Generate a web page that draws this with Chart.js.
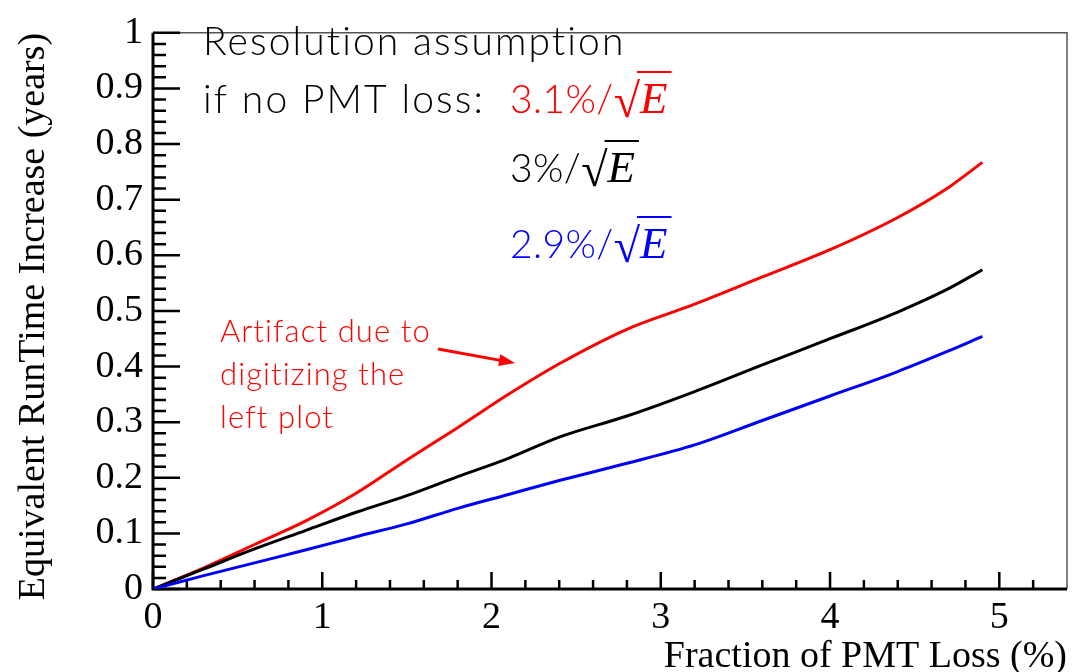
<!DOCTYPE html>
<html>
<head>
<meta charset="utf-8">
<script src="https://cdn.jsdelivr.net/npm/chart.js@4.4.0/dist/chart.umd.min.js"></script>
<style>
html, body { margin: 0; padding: 0; background: #fff; }
</style>
</head>
<body>
<canvas id="pmt" width="1074" height="672"></canvas>
<script>
// fraction of PMT loss (%) where the curves were read
const lossX = [0, 0.3, 0.6, 0.9, 1.2, 1.5, 1.8, 2.1, 2.4, 2.8, 3.2, 3.6, 4.0, 4.4, 4.7, 4.9];
// equivalent runtime increase (years)
const res31 = [0, 0.038, 0.080, 0.122, 0.172, 0.232, 0.290, 0.350, 0.405, 0.467, 0.512, 0.561, 0.610, 0.668, 0.722, 0.767];
const res30 = [0, 0.036, 0.072, 0.105, 0.138, 0.168, 0.202, 0.235, 0.273, 0.311, 0.355, 0.403, 0.450, 0.498, 0.540, 0.574];
const res29 = [0, 0.024, 0.047, 0.070, 0.094, 0.117, 0.145, 0.170, 0.195, 0.226, 0.259, 0.303, 0.347, 0.391, 0.428, 0.454];

const xTickVals = [0, 1, 2, 3, 4, 5];
const yTickVals = [0, 0.1, 0.2, 0.3, 0.4, 0.5, 0.6, 0.7, 0.8, 0.9, 1];

const RED = '#ff0000', BLUE = '#0000ff', BLACK = '#000000';
const serif = '"Liberation Serif", "Times New Roman", serif';

function pts(ys) {
  return lossX.map((x, i) => ({x: x, y: ys[i]}));
}

// root style frame: ticks pointing inward
const frame = {
  id: 'frame',
  beforeDatasetsDraw(chart) {
    const {ctx, chartArea: a, scales: {x, y}} = chart;
    ctx.save();
    ctx.strokeStyle = '#555';
    ctx.lineWidth = 1.5;
    ctx.beginPath();
    ctx.moveTo(a.left, a.top);
    ctx.lineTo(a.right, a.top);
    ctx.lineTo(a.right, a.bottom);
    ctx.stroke();

    ctx.strokeStyle = '#000';
    ctx.lineWidth = 2.5;
    ctx.beginPath();
    for (let i = 0; i * 0.2 < x.max - 0.01; i++) {
      const px = x.getPixelForValue(i * 0.2);
      ctx.moveTo(px, a.bottom);
      ctx.lineTo(px, a.bottom - (i % 5 === 0 ? 17 : 9));
    }
    for (let i = 0; i <= 50; i++) {
      const py = y.getPixelForValue(i * 0.02);
      ctx.moveTo(a.left, py);
      ctx.lineTo(a.left + (i % 5 === 0 ? 27 : 13), py);
    }
    ctx.stroke();

    ctx.lineWidth = 3;
    ctx.beginPath();
    ctx.moveTo(a.left, a.top);
    ctx.lineTo(a.left, a.bottom);
    ctx.lineTo(a.right, a.bottom);
    ctx.stroke();
    ctx.restore();
  }
};

function drawRes(ctx, prefix, x, y, color) {
  ctx.fillStyle = color;
  ctx.strokeStyle = color;
  ctx.font = '300 39px Lato';
  ctx.letterSpacing = '0.4px';
  ctx.fillText(prefix, x, y);
  let cx = x + ctx.measureText(prefix).width;
  ctx.letterSpacing = '0px';
  ctx.font = '48px ' + serif;
  ctx.fillText('\u221A', cx, y + 4);
  const rw = ctx.measureText('\u221A').width;
  ctx.font = 'italic 45px ' + serif;
  const ex = cx + rw;
  ctx.fillText('E', ex, y);
  const ew = ctx.measureText('E').width;
  ctx.lineWidth = 2;
  ctx.beginPath();
  ctx.moveTo(cx + rw - 3, y - 41);
  ctx.lineTo(ex + ew + 4, y - 41);
  ctx.stroke();
}

const notes = {
  id: 'notes',
  afterDraw(chart) {
    const ctx = chart.ctx;
    ctx.save();
    ctx.textBaseline = 'alphabetic';
    ctx.textAlign = 'left';
    ctx.fillStyle = BLACK;
    ctx.font = '300 39px Lato';
    ctx.letterSpacing = '2.1px';
    ctx.fillText('Resolution assumption', 203, 55);
    ctx.fillText('if no PMT loss:', 203, 113);
    drawRes(ctx, '3.1%/', 510, 113, RED);
    drawRes(ctx, '3%/', 510, 182, BLACK);
    drawRes(ctx, '2.9%/', 510, 258, BLUE);

    ctx.fillStyle = RED;
    ctx.font = '300 31px Lato';
    ctx.letterSpacing = '1.1px';
    ctx.fillText('Artifact due to', 220, 342);
    ctx.fillText('digitizing the', 220, 385);
    ctx.fillText('left plot', 220, 428);
    ctx.letterSpacing = '0px';

    // arrow
    const x0 = 438, y0 = 349, x1 = 515, y1 = 363;
    const ang = Math.atan2(y1 - y0, x1 - x0);
    ctx.strokeStyle = RED;
    ctx.lineWidth = 3;
    ctx.beginPath();
    ctx.moveTo(x0, y0);
    ctx.lineTo(x1 - 12 * Math.cos(ang), y1 - 12 * Math.sin(ang));
    ctx.stroke();
    ctx.beginPath();
    ctx.moveTo(x1, y1);
    ctx.lineTo(x1 - 16 * Math.cos(ang) + 6 * Math.sin(ang), y1 - 16 * Math.sin(ang) - 6 * Math.cos(ang));
    ctx.lineTo(x1 - 16 * Math.cos(ang) - 6 * Math.sin(ang), y1 - 16 * Math.sin(ang) + 6 * Math.cos(ang));
    ctx.closePath();
    ctx.fill();
    ctx.restore();
  }
};

new Chart(document.getElementById('pmt'), {
  type: 'line',
  data: {
    datasets: [
      { label: '2.9%', data: pts(res29), borderColor: BLUE },
      { label: '3%', data: pts(res30), borderColor: BLACK },
      { label: '3.1%', data: pts(res31), borderColor: RED }
    ]
  },
  options: {
    responsive: false,
    animation: false,
    events: [],
    layout: { padding: { top: 19, right: 7, left: 0, bottom: 0 } },
    elements: {
      point: { radius: 0 },
      line: { borderWidth: 3, cubicInterpolationMode: 'monotone', fill: false }
    },
    plugins: { legend: { display: false }, tooltip: { enabled: false } },
    scales: {
      x: {
        type: 'linear',
        min: 0,
        max: 5.4,
        grid: { display: false, drawTicks: false },
        border: { display: false },
        afterBuildTicks: s => { s.ticks = xTickVals.map(v => ({value: v})); },
        afterFit: s => { s.height = 83; },
        ticks: {
          padding: 6,
          color: '#000',
          maxRotation: 0,
          font: { family: serif, size: 38 },
          callback: v => String(v)
        },
        title: {
          display: true,
          text: 'Fraction of PMT Loss (%)',
          align: 'end',
          color: '#000',
          padding: 0,
          font: { family: serif, size: 38, lineHeight: 0.8 }
        }
      },
      y: {
        type: 'linear',
        min: 0,
        max: 1,
        grid: { display: false, drawTicks: false },
        border: { display: false },
        afterBuildTicks: s => { s.ticks = yTickVals.map(v => ({value: v})); },
        afterFit: s => { s.width = 153; },
        ticks: {
          padding: 10,
          color: '#000',
          font: { family: serif, size: 38 },
          callback: v => String(v)
        },
        title: {
          display: true,
          text: 'Equivalent RunTime Increase (years)',
          align: 'end',
          color: '#000',
          padding: { top: 19, bottom: 0 },
          font: { family: serif, size: 38, lineHeight: 0.8 }
        }
      }
    }
  },
  plugins: [frame, notes]
});
</script>
</body>
</html>
